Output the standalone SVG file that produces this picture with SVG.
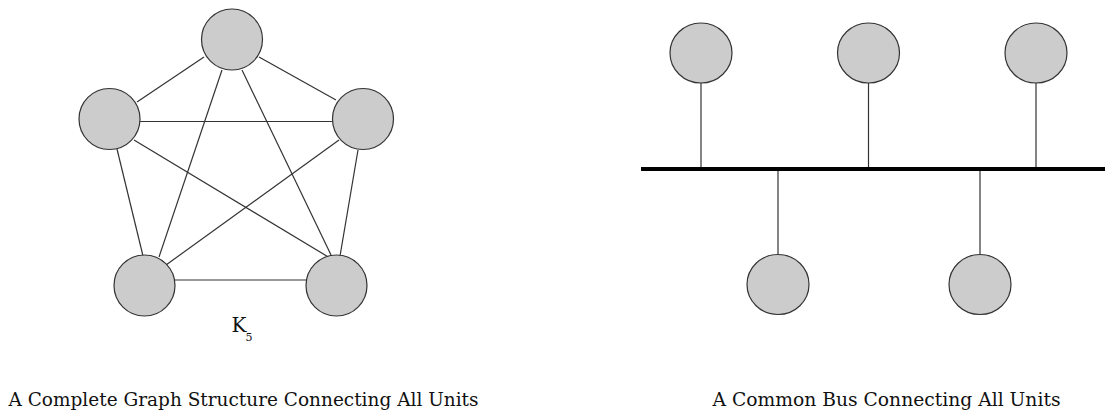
<svg xmlns="http://www.w3.org/2000/svg" width="1112" height="417" viewBox="0 0 1112 417">
<style>
.node{fill:#cccccc;stroke:#333333;stroke-width:1.2}
.edge{stroke:#333333;stroke-width:1.2;fill:none}
.bus{stroke:#000000;stroke-width:4;fill:none}
.cap{fill:#111111}
</style>
<rect width="1112" height="417" fill="#ffffff"/>
<g id="connectors">
<line class="edge" x1="204" y1="57" x2="137" y2="102"/>
<line class="edge" x1="259" y1="57" x2="336" y2="100"/>
<line class="edge" x1="222" y1="70" x2="159" y2="257"/>
<line class="edge" x1="242" y1="70" x2="332" y2="257"/>
<line class="edge" x1="140" y1="121.5" x2="333" y2="121.5"/>
<line class="edge" x1="117" y1="149" x2="143" y2="256"/>
<line class="edge" x1="134" y1="140" x2="330" y2="258"/>
<line class="edge" x1="339" y1="140" x2="166" y2="265"/>
<line class="edge" x1="358" y1="150" x2="340" y2="256"/>
<line class="edge" x1="175" y1="280" x2="307" y2="280"/>
<line class="bus" x1="641" y1="169" x2="1105" y2="169"/>
<line class="edge" x1="701" y1="83" x2="701" y2="167"/>
<line class="edge" x1="868.5" y1="83" x2="868.5" y2="167"/>
<line class="edge" x1="1036" y1="83" x2="1036" y2="167"/>
<line class="edge" x1="778" y1="171" x2="778" y2="254"/>
<line class="edge" x1="980" y1="171" x2="980" y2="254"/>
</g>
<g id="k5-top"><circle class="node" cx="232" cy="39.5" r="30.5"/></g>
<g id="k5-left"><circle class="node" cx="109.5" cy="119" r="30.5"/></g>
<g id="k5-right"><circle class="node" cx="363" cy="119" r="30.5"/></g>
<g id="k5-bottom-left"><circle class="node" cx="144.5" cy="285.5" r="30.5"/></g>
<g id="k5-bottom-right"><circle class="node" cx="336.5" cy="285.5" r="30.5"/></g>
<g id="bus-top-1"><ellipse class="node" cx="701" cy="53" rx="31" ry="30"/></g>
<g id="bus-top-2"><ellipse class="node" cx="868.5" cy="53" rx="31" ry="30"/></g>
<g id="bus-top-3"><ellipse class="node" cx="1036" cy="53" rx="31" ry="30"/></g>
<g id="bus-bottom-1"><ellipse class="node" cx="778" cy="284.5" rx="31" ry="30"/></g>
<g id="bus-bottom-2"><ellipse class="node" cx="980" cy="284.5" rx="31" ry="30"/></g>
<g id="labels" font-family="'DejaVu Serif', 'Liberation Serif', serif">
<text class="cap" x="231.5" y="332" font-size="20">K</text>
<text class="cap" x="245.5" y="340.5" font-size="11">5</text>
<text class="cap" x="8.5" y="406" font-size="19" textLength="470" lengthAdjust="spacingAndGlyphs">A Complete Graph Structure Connecting All Units</text>
<text class="cap" x="712.5" y="406" font-size="19" textLength="348" lengthAdjust="spacingAndGlyphs">A Common Bus Connecting All Units</text>
</g>
</svg>
